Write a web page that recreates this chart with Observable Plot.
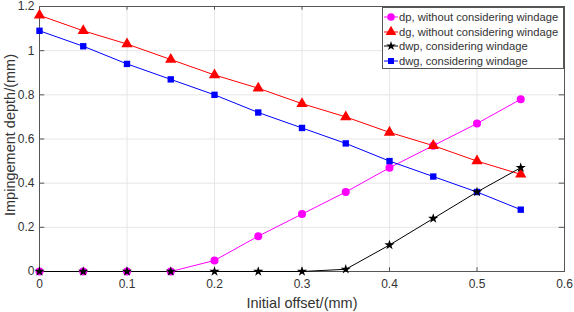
<!DOCTYPE html>
<html>
<head>
<meta charset="utf-8">
<script src="https://cdn.jsdelivr.net/npm/d3@7"></script>
<script src="https://cdn.jsdelivr.net/npm/@observablehq/plot@0.6"></script>
<style>
  html, body { margin: 0; padding: 0; background: #fff; }
  #wrap { position: relative; width: 574px; height: 312px; font-family: "Liberation Sans", Arial, sans-serif; }
  #legend { position: absolute; left: 382px; top: 7px; width: 182px; height: 62px; border: 1px solid #555; background: #fff; box-sizing: border-box; padding: 2px 0 0 1px; font-size: 11.2px; color: #333; }
  .row { display: flex; align-items: center; height: 14.5px; }
  .row svg { margin-right: 1px; }
</style>
</head>
<body>
<div id="wrap"></div>
<script>
const offsets = [0, 0.05, 0.1, 0.15, 0.2, 0.25, 0.3, 0.35, 0.4, 0.45, 0.5, 0.55];
const dp  = [0, 0, 0, 0, 0.05, 0.16, 0.26, 0.36, 0.47, 0.57, 0.67, 0.78];
const dg  = [1.16, 1.09, 1.03, 0.96, 0.89, 0.83, 0.76, 0.70, 0.63, 0.57, 0.50, 0.44];
const dwp = [0, 0, 0, 0, 0, 0, 0, 0.01, 0.12, 0.24, 0.36, 0.47];
const dwg = [1.09, 1.02, 0.94, 0.87, 0.80, 0.72, 0.65, 0.58, 0.50, 0.43, 0.36, 0.28];
const seriesNames = ["dp, without considering windage", "dg, without considering windage", "dwp, considering windage", "dwg, considering windage"];
const seriesColors = ["#ff00ff", "#ff0000", "#000000", "#0000ff"];
const seriesSymbols = ["circle", "triangle", "star", "square"];
const seriesR = [4, 4.2, 3.2, 3.6];
const xTicks = [0, 0.1, 0.2, 0.3, 0.4, 0.5, 0.6];
const yTicks = [0, 0.2, 0.4, 0.6, 0.8, 1, 1.2];

const allSeries = [dp, dg, dwp, dwg];
const rows = [];
allSeries.forEach((vals, i) => vals.forEach((v, j) => rows.push({x: offsets[j], y: v, s: i})));

const lineMarks = [];
allSeries.forEach((vals, i) => {
  const d = rows.filter(r => r.s === i);
  lineMarks.push(Plot.line(d, {x: "x", y: "y", stroke: seriesColors[i], strokeWidth: 1}));
});
const dotMarks = [];
[0, 1, 3, 2].forEach(i => {
  const d = rows.filter(r => r.s === i);
  dotMarks.push(Plot.dot(d, {x: "x", y: "y", symbol: () => seriesSymbols[i], fill: seriesColors[i], stroke: "none", r: seriesR[i]}));
});

const chart = Plot.plot({
  width: 574,
  height: 312,
  marginLeft: 39,
  marginRight: 10,
  marginTop: 6,
  marginBottom: 41,
  style: {fontFamily: "Liberation Sans, Arial, sans-serif", fontSize: "12px", color: "#333", background: "#fff", overflow: "visible"},
  x: {domain: [0, 0.6], ticks: xTicks, tickFormat: d => String(d), label: null},
  y: {domain: [0, 1.2], ticks: yTicks, tickFormat: d => String(d), label: null},
  symbol: {type: "identity"},
  marks: [
    Plot.gridX(xTicks, {stroke: "#e6e6e6", strokeOpacity: 1}),
    Plot.gridY(yTicks, {stroke: "#e6e6e6", strokeOpacity: 1}),
    Plot.axisX(xTicks, {tickSize: 0, tickPadding: 8, tickFormat: d => String(d), fontSize: 12, fill: "#333", label: null}),
    Plot.axisY(yTicks, {tickSize: 0, tickPadding: 5, tickFormat: d => String(d), fontSize: 12, fill: "#333", label: null}),
    Plot.ruleX(xTicks, {x: d => d, y1: 1.2, y2: 1.183, stroke: "#555"}),
    Plot.ruleX(xTicks, {x: d => d, y1: 0, y2: 0.017, stroke: "#555"}),
    Plot.ruleY(yTicks, {y: d => d, x1: 0, x2: 0.006, stroke: "#555"}),
    Plot.ruleY(yTicks, {y: d => d, x1: 0.6, x2: 0.594, stroke: "#555"}),
    Plot.frame({stroke: "#555", strokeWidth: 1}),
    ...lineMarks,
    ...dotMarks,
    Plot.text(["Initial offset/(mm)"], {frameAnchor: "bottom", lineAnchor: "middle", dy: 32, fontSize: 14.5, fill: "#333"}),
    Plot.text(["Impingement depth/(mm)"], {frameAnchor: "left", textAnchor: "middle", lineAnchor: "middle", dx: -29, dy: -4, rotate: -90, fontSize: 14.5, fill: "#333"})
  ]
});
const wrap = document.getElementById("wrap");
wrap.appendChild(chart);

const legend = document.createElement("div");
legend.id = "legend";
seriesNames.forEach((name, i) => {
  const row = document.createElement("div");
  row.className = "row";
  const sym = d3.symbol().type({circle: d3.symbolCircle, triangle: d3.symbolTriangle, star: d3.symbolStar, square: d3.symbolSquare}[seriesSymbols[i]]).size(Math.PI * seriesR[i] * seriesR[i] * 0.9)();
  row.innerHTML = `<svg width="14" height="12"><line x1="0" x2="14" y1="6" y2="6" stroke="${seriesColors[i]}" stroke-width="1"/><path d="${sym}" transform="translate(7,6)" fill="${seriesColors[i]}"/></svg><span>${name}</span>`;
  legend.appendChild(row);
});
wrap.appendChild(legend);
</script>
</body>
</html>
